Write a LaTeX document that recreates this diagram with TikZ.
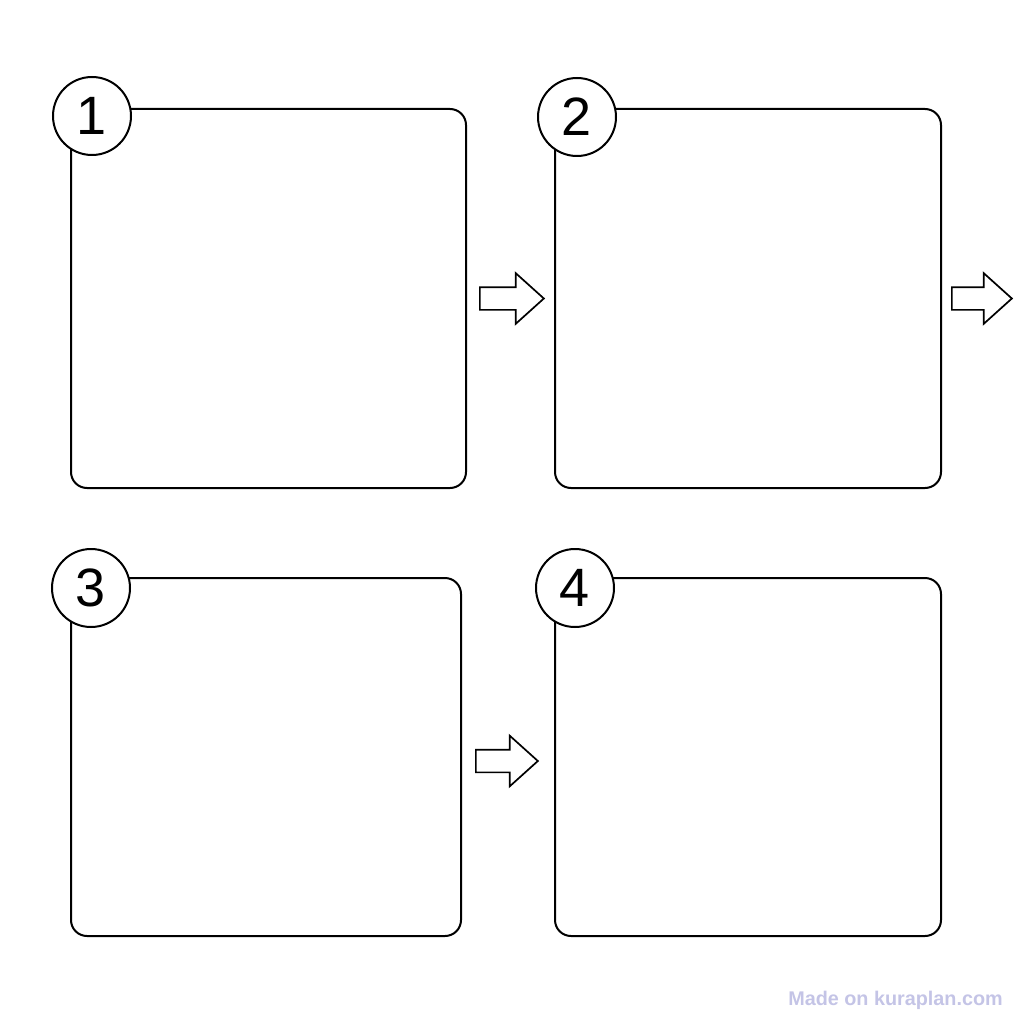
\documentclass[tikz,border=0pt]{standalone}
\usepackage{fontspec}
\setmainfont{Liberation Sans}
\usetikzlibrary{positioning,shapes.arrows}
\definecolor{markgray}{RGB}{196,196,230}
\tikzset{
  panel/.style={draw, line width=2pt, rounded corners=16pt, anchor=north west, inner sep=0pt},
  badge/.style={draw, circle, fill=white, line width=2pt, minimum size=78pt, inner sep=0pt,
                font=\fontsize{54}{54}\selectfont},
  flow/.style={draw, single arrow, line width=1.7pt, inner xsep=0pt, inner ysep=10.5pt,
               single arrow head extend=14pt, single arrow tip angle=84, minimum height=64pt},
}
\begin{document}
\begin{tikzpicture}[x=1pt, y=-1pt]
      \useasboundingbox (0,0) rectangle (1024,1024);
      % panels
      \node[panel, minimum width=395pt, minimum height=379pt] (panel1) at (70,108) {};
      \node[panel, minimum width=386pt, minimum height=379pt] (panel2) at (554,108) {};
      \node[panel, minimum width=390pt, minimum height=358pt] (panel3) at (70,577) {};
      \node[panel, minimum width=386pt, minimum height=358pt] (panel4) at (554,577) {};
      % numbers
      \foreach \i/\dx/\dy in {1/22/8, 2/23/9, 3/21/11, 4/21/11}
        \node[badge] (badge\i) at ([shift={(\dx,\dy)}]panel\i.north west) {\i};
      % arrows
      \node[flow, right=12pt of panel1] (step12) {};
      \node[flow, right=9pt of panel2, minimum height=60pt] (step23) {};
      \node[flow, right=13pt of panel3, yshift=-4pt, minimum height=62pt] (step34) {};
      \node[font=\bfseries\fontsize{19.8}{20}\selectfont, text=markgray, anchor=base east, inner sep=0pt]
        (mark) at (1003,1005) {Made on kuraplan.com};
    \end{tikzpicture}
\end{document}
